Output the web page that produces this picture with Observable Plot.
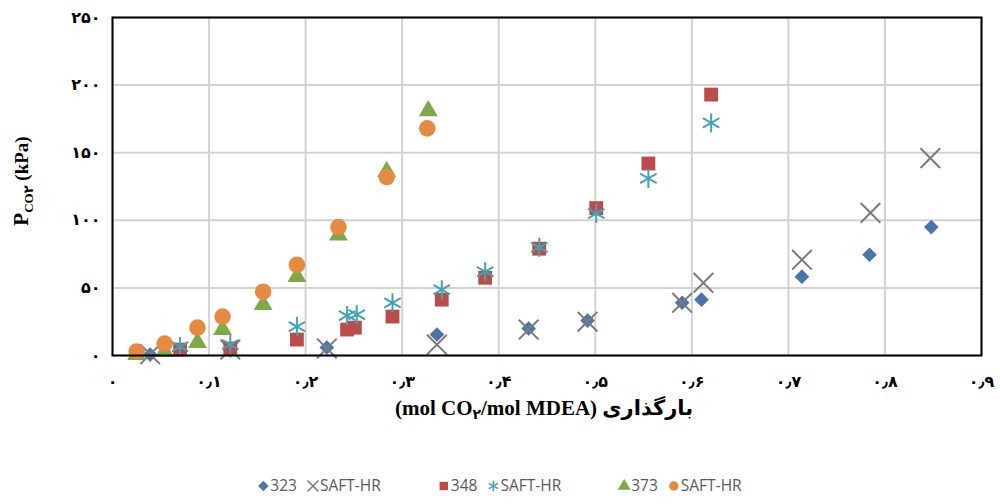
<!DOCTYPE html>
<html><head><meta charset="utf-8">
<script src="https://cdn.jsdelivr.net/npm/d3@7"></script>
<script src="https://cdn.jsdelivr.net/npm/@observablehq/plot@0.6"></script>
<style>body{margin:0;background:#fff}</style>
</head><body><div id="chart"></div>
<script>
// ---- data ----
const xTicks = [0, 0.1, 0.2, 0.3, 0.4, 0.5, 0.6, 0.7, 0.8, 0.9];
const yTicks = [0, 50, 100, 150, 200, 250];

const load323 = [0.039, 0.122, 0.222, 0.336, 0.431, 0.492, 0.590, 0.610, 0.714, 0.784, 0.848];
const p323    = [0.7, 3.7, 5.9, 15.5, 20, 25.8, 39, 41.3, 58.3, 74.5, 95];

const load323s = [0.039, 0.122, 0.222, 0.336, 0.431, 0.492, 0.590, 0.612, 0.714, 0.785, 0.847];
const p323s    = [0.9, 4.4, 5.2, 8.1, 19.2, 25, 39, 53.8, 70.8, 105.5, 146];

const load348 = [0.070, 0.122, 0.191, 0.243, 0.251, 0.290, 0.341, 0.386, 0.442, 0.501, 0.555, 0.620];
const p348    = [4.4, 5.2, 11.8, 19.2, 20.6, 28.8, 41.3, 57.5, 79, 109, 142, 193];

const load348s = [0.070, 0.122, 0.191, 0.243, 0.253, 0.290, 0.341, 0.386, 0.442, 0.501, 0.555, 0.620];
const p348s    = [6.6, 8.1, 21.4, 29.5, 30.2, 39, 48.7, 62, 80, 105, 131, 172];

const load373 = [0.025, 0.054, 0.088, 0.114, 0.156, 0.191, 0.234, 0.284, 0.327];
const p373    = [0.7, 3, 9.6, 19.2, 37.6, 58.3, 89, 136, 181];

const load373s = [0.025, 0.054, 0.088, 0.114, 0.156, 0.191, 0.234, 0.284, 0.326];
const p373s    = [3, 8.8, 20.6, 28.8, 47.2, 67, 95, 132, 168];

const legendLabels = ["323", "SAFT-HR", "348", "SAFT-HR", "373", "SAFT-HR"];

// ---- helpers ----
const faDigits = "۰۱۲۳۴۵۶۷۸۹";
const fa = s => String(s).replace(/\d/g, d => faDigits[+d]);
const fmtX = d => d === 0 ? "۰" : fa(d.toFixed(1)).replace(".", "٫");
const fmtY = d => fa(d);
const pts = (xs, ys) => xs.map((x, i) => ({x, y: ys[i]}));

const series = [
  {data: pts(load323, p323),   symbol: "diamond2", fill: "#4a74aa", r: 6.6},
  {data: pts(load323s, p323s), symbol: "times",    stroke: "#7b7b7b", r: 9},
  {data: pts(load348, p348),   symbol: "square",   fill: "#b94d4a", r: 7.8},
  {data: pts(load348s, p348s), symbol: "asterisk", stroke: "#45a2b5", r: 9},
  {data: pts(load373, p373),   symbol: "triangle", fill: "#7fa84a", r: 7},
  {data: pts(load373s, p373s), symbol: "circle",   fill: "#e58a42", r: 8.3}
];

const serif = "'Liberation Serif', 'Times New Roman', 'DejaVu Sans', serif";

const dotMarks = series.map(s => Plot.dot(s.data, {
  x: "x", y: "y", symbol: s.symbol, r: s.r,
  fill: s.fill || "none", stroke: s.stroke || "none", strokeWidth: s.stroke ? 2 : 0
}));

const plot = Plot.plot({
  width: 1000, height: 504,
  marginLeft: 112, marginRight: 19, marginTop: 17, marginBottom: 149,
  x: {domain: [0, 0.9]},
  y: {domain: [0, 250]},
  style: {fontFamily: serif, fontSize: "16px", fontWeight: "bold", color: "black", background: "white"},
  marks: [
    Plot.gridX(xTicks, {stroke: "#d2d2d2", strokeWidth: 2, strokeOpacity: 1}),
    Plot.gridY(yTicks, {stroke: "#d2d2d2", strokeWidth: 2, strokeOpacity: 1}),
    Plot.axisX(xTicks, {tickSize: 0, tickPadding: 20, tickFormat: fmtX, label: null}),
    Plot.axisY(yTicks, {tickSize: 0, tickPadding: 12, tickFormat: fmtY, label: null}),
    ...dotMarks,
    Plot.frame({stroke: "black", strokeWidth: 2})
  ]
});
document.getElementById("chart").appendChild(plot);

const svg = d3.select(plot);

// y-axis title
const yt = svg.append("text")
  .attr("transform", "translate(28,181) rotate(-90)")
  .attr("text-anchor", "middle")
  .style("font-family", serif).style("font-weight", "bold").style("font-size", "19px")
  .attr("fill", "black");
yt.append("tspan").text("P").style("font-size", "21px");
yt.append("tspan").text("CO۲").style("font-size", "13px").attr("dy", 5);
yt.append("tspan").text(" (kPa)").attr("dy", -5);

// x-axis title
const xt = svg.append("text")
  .attr("x", 544).attr("y", 415)
  .attr("text-anchor", "middle")
  .style("font-family", serif).style("font-weight", "bold").style("font-size", "21px")
  .attr("fill", "black");
xt.append("tspan").text("(mol CO");
xt.append("tspan").text("۲").style("font-size", "14px").attr("dy", 4);
xt.append("tspan").text("/mol MDEA) بارگذاری").attr("dy", -4);

// legend
const symMap = {diamond2: d3.symbolDiamond2, times: d3.symbolTimes, square: d3.symbolSquare,
  asterisk: d3.symbolAsterisk, triangle: d3.symbolTriangle, circle: d3.symbolCircle};
const lg = svg.append("g").attr("text-anchor", "start");
const gaps = [11, 58, 11, 58, 11];
let cx = 0;
series.forEach((s, i) => {
  const g = lg.append("g");
  g.append("path")
    .attr("d", d3.symbol(symMap[s.symbol], s.stroke ? 80 : 70)())
    .attr("transform", `translate(${cx + 5},-5)`)
    .attr("fill", s.fill || "none").attr("stroke", s.stroke || "none").attr("stroke-width", s.stroke ? 1.6 : 0);
  const t = g.append("text").attr("x", cx + 12).attr("y", 0)
    .attr("text-anchor", "start")
    .style("font-family", "'Open Sans', 'Liberation Sans', sans-serif")
    .style("font-weight", "normal")
    .style("font-size", "15.5px").attr("fill", "#5a5a5a").text(legendLabels[i]);
  cx += 12 + t.node().getComputedTextLength() + (i < series.length - 1 ? gaps[i] : 0);
});
lg.attr("transform", `translate(${500 - cx / 2},491)`);
</script></body></html>
